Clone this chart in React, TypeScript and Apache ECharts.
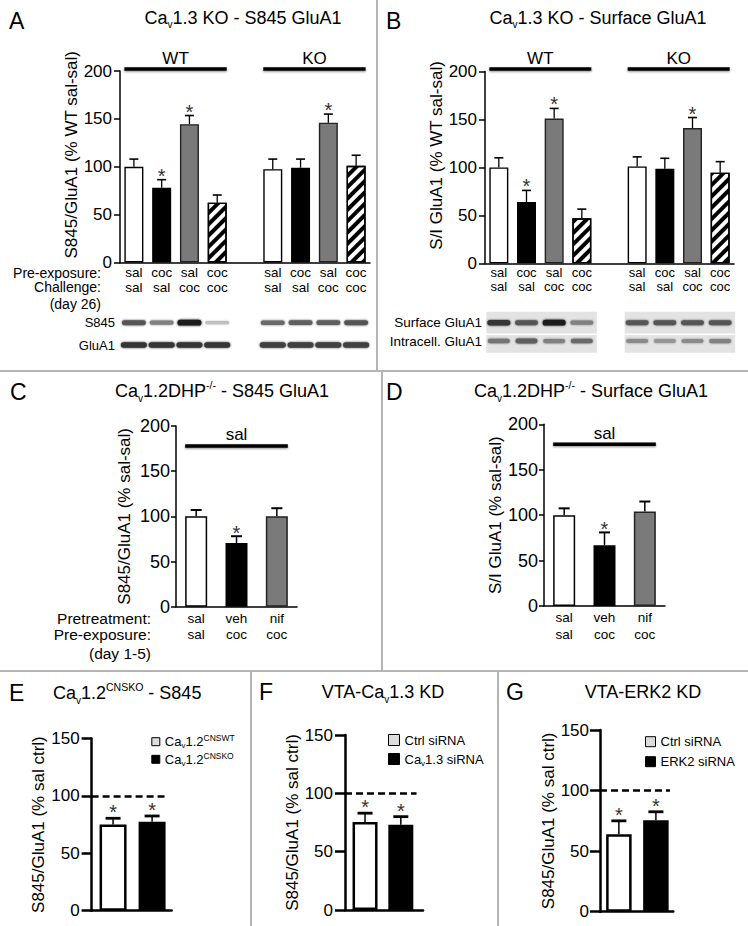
import React, { useEffect, useRef } from "react";
import * as echarts from "echarts";

const FONT = "'Liberation Sans', Arial, Helvetica, sans-serif";

// ---------- Panels A & B : Cav1.3 KO ----------
const abCategories = ["WT sal/sal", "WT coc/sal", "WT sal/coc", "WT coc/coc", "spacer", "KO sal/sal", "KO coc/sal", "KO sal/coc", "KO coc/coc"];
const abGenotype = ["WT", "WT", "WT", "WT", "", "KO", "KO", "KO", "KO"];
const abPreExposure = ["sal", "coc", "sal", "coc", "", "sal", "coc", "sal", "coc"];
const abChallenge = ["sal", "sal", "coc", "coc", "", "sal", "sal", "coc", "coc"];
const abFill = ["white", "black", "gray", "hatch", "", "white", "black", "gray", "hatch"];

const aMean = [100, 78, 144.5, 62.5, null, 97.5, 99, 146, 101];
const aErrTop = [108, 86.5, 153.5, 70.5, null, 108, 108, 155, 112];
const aSig = [false, true, true, false, false, false, false, true, false];

const bMean = [100, 64, 151, 47, null, 101, 98.5, 141, 94.5];
const bErrTop = [110, 76, 161.5, 56.5, null, 111, 109.5, 152, 106];
const bSig = [false, true, true, false, false, false, false, true, false];

// western blot band intensities (0..1)
const aBlotS845 = [0.7, 0.5, 0.95, 0.2, null, 0.6, 0.65, 0.65, 0.7];
const aBlotGluA1 = [0.85, 0.85, 0.85, 0.85, null, 0.8, 0.8, 0.8, 0.8];
const bBlotSurface = [0.85, 0.7, 0.95, 0.5, null, 0.7, 0.7, 0.7, 0.7];
const bBlotIntra = [0.55, 0.65, 0.5, 0.6, null, 0.45, 0.4, 0.45, 0.5];

// ---------- Panels C & D : Cav1.2DHP-/- ----------
const cdCategories = ["sal/sal", "veh/coc", "nif/coc"];
const cdPretreatment = ["sal", "veh", "nif"];
const cdPreExposure = ["sal", "coc", "coc"];
const cdFill = ["white", "black", "gray"];
const cdChallenge = "sal";
const cMean = [100, 70.5, 100];
const cErrTop = [107, 78, 109];
const cSig = [false, true, false];
const dMean = [100, 67, 104];
const dErrTop = [107.5, 81, 115];
const dSig = [false, true, false];

// ---------- Panels E, F, G ----------
const eSeries = ["Cav1.2CNSWT", "Cav1.2CNSKO"];
const eMean = [75, 77.5];
const eErrTop = [80.5, 82.5];
const fSeries = ["Ctrl siRNA", "Cav1.3 siRNA"];
const fMean = [75.5, 73];
const fErrTop = [83, 80];
const gSeries = ["Ctrl siRNA", "ERK2 siRNA"];
const gMean = [64, 75.5];
const gErrTop = [75, 82.5];
const efgSig = [true, true];
const efgX = [1, 2];
const refLevel = 100;

// ---------- layout ----------
const L: any = {
  A: { left: 120, top: 71, width: 250, height: 191.5 },
  B: { left: 485, top: 71.5, width: 249, height: 191.8 },
  C: { left: 176, top: 426, width: 121, height: 180.7 },
  D: { left: 544, top: 424.3, width: 121, height: 181.7 },
  E: { left: 91.6, top: 738.5, width: 80, height: 172.2, xmin: 0.45, xmax: 2.5, dashEnd: 2.33, barW: 27 },
  F: { left: 345, top: 735, width: 78, height: 175, xmin: 0.44, xmax: 2.62, dashEnd: 2.44, barW: 25 },
  G: { left: 600, top: 730, width: 73.3, height: 181.7, xmin: 0.49, xmax: 2.47, dashEnd: 2.38, barW: 25.5 },
};

const HATCH = {
  symbol: "rect",
  symbolSize: 1,
  dashArrayX: [1, 0],
  dashArrayY: [3.5, 3.5],
  rotation: -Math.PI / 4,
  color: "#000",
  backgroundColor: "#fff",
};

function fillStyle(kind: string, bw: number): any {
  switch (kind) {
    case "black":
      return { color: "#000", borderColor: "#000", borderWidth: bw };
    case "gray":
      return { color: "#7a7a7a", borderColor: "#222", borderWidth: bw };
    case "hatch":
      return { color: "#fff", borderColor: "#000", borderWidth: bw, decal: HATCH };
    default:
      return { color: "#fff", borderColor: "#000", borderWidth: bw };
  }
}

function spansFrom(labels: string[]) {
  const out: any[] = [];
  labels.forEach((lab, i) => {
    if (!lab) return;
    const last = out[out.length - 1];
    if (last && last.label === lab && last.to === i - 1) last.to = i;
    else out.push({ from: i, to: i, label: lab });
  });
  return out;
}

function errorSeries(axis: number, xs: number[], means: any[], tops: any[], sigs: boolean[], st: any) {
  const data: any[] = [];
  means.forEach((m, i) => {
    if (m != null) data.push([xs[i], m, tops[i], sigs[i] ? 1 : 0]);
  });
  return {
    type: "custom",
    xAxisIndex: axis,
    yAxisIndex: axis,
    silent: true,
    z: 5,
    encode: { x: 0, y: [1, 2] },
    data,
    renderItem: (params: any, api: any) => {
      const x = api.value(0);
      const m = api.value(1);
      const t = api.value(2);
      const s = api.value(3);
      const p0 = api.coord([x, m]);
      const p1 = api.coord([x, t]);
      const ch: any[] = [
        { type: "line", shape: { x1: p0[0], y1: p0[1], x2: p1[0], y2: p1[1] }, style: { stroke: "#000", lineWidth: st.stem } },
        { type: "line", shape: { x1: p1[0] - st.cap, y1: p1[1], x2: p1[0] + st.cap, y2: p1[1] }, style: { stroke: "#000", lineWidth: st.capW } },
      ];
      if (s) {
        ch.push({
          type: "text",
          x: p1[0],
          y: p1[1] - st.starGap,
          style: { text: "*", fontSize: st.starSize, fontFamily: FONT, fill: "#333", align: "center", verticalAlign: "middle" },
        });
      }
      return { type: "group", children: ch };
    },
  };
}

function groupSeries(axis: number, spans: any[], yVal: number, halfBar: number, st: any) {
  return {
    type: "custom",
    xAxisIndex: axis,
    yAxisIndex: axis,
    silent: true,
    z: 5,
    encode: { x: [0, 1], y: 2 },
    data: spans.map((s) => [s.from, s.to, yVal]),
    renderItem: (params: any, api: any) => {
      const sp = spans[params.dataIndex];
      const a = api.coord([sp.from, yVal]);
      const b = api.coord([sp.to, yVal]);
      const x0 = a[0] - halfBar;
      const x1 = b[0] + halfBar;
      return {
        type: "group",
        children: [
          {
            type: "rect",
            shape: { x: x0, y: a[1] - st.lw / 2, width: x1 - x0, height: st.lw },
            style: { fill: "#000", shadowBlur: 2, shadowColor: "rgba(0,0,0,0.45)", shadowOffsetY: 1 },
          },
          {
            type: "text",
            x: (a[0] + b[0]) / 2,
            y: a[1] - st.gap,
            style: { text: sp.label, fontSize: st.fs, fontFamily: FONT, fill: "#000", align: "center", verticalAlign: "middle" },
          },
        ],
      };
    },
  };
}

function yAxisOf(gridIndex: number, max: number, name: string, o: any) {
  return {
    type: "value",
    gridIndex,
    min: 0,
    max,
    interval: 50,
    name,
    nameLocation: "middle",
    nameGap: o.nameGap,
    nameRotate: 90,
    nameTextStyle: { fontSize: 17, color: "#000", fontFamily: FONT, padding: o.namePad || 0 },
    axisLine: { show: true, lineStyle: { color: "#000", width: o.lw } },
    axisTick: { show: true, length: o.tickLen, lineStyle: { color: "#000", width: o.lw } },
    axisLabel: { fontSize: o.fs, color: "#000", margin: o.margin, fontFamily: FONT },
    splitLine: { show: false },
  };
}

function catAxis(gridIndex: number, cats: string[], row1: string[], row2: string[], o: any) {
  return {
    type: "category",
    gridIndex,
    data: cats,
    axisLine: { show: true, lineStyle: { color: "#000", width: 1.5 } },
    axisTick: { show: false },
    axisLabel: {
      interval: 0,
      fontSize: o.fs,
      lineHeight: o.lh,
      margin: o.margin,
      color: "#000",
      fontFamily: FONT,
      formatter: (v: string) => {
        const i = cats.indexOf(v);
        return row1[i] ? `${row1[i]}\n${row2[i]}` : "";
      },
    },
    splitLine: { show: false },
  };
}

function valXAxis(gridIndex: number, g: any) {
  return {
    type: "value",
    gridIndex,
    min: g.xmin,
    max: g.xmax,
    axisLine: { show: true, onZero: false, lineStyle: { color: "#000", width: 2.5 } },
    axisTick: { show: false },
    axisLabel: { show: false },
    splitLine: { show: false },
  };
}

function toRich(name: string) {
  if (name.startsWith("Cav")) {
    const rest = name.slice(3);
    const m = rest.match(/^(1\.\d)(CNS\w+)$/);
    if (m) return `{n|Ca}{sub|v}{n|${m[1]}}{sup|${m[2]}}`;
    return `{n|Ca}{sub|v}{n|${rest}}`;
  }
  return `{n|${name}}`;
}

const legendRich = {
  n: { fontSize: 13, fontFamily: FONT, color: "#000", lineHeight: 16 },
  sub: { fontSize: 8, fontFamily: FONT, color: "#000", lineHeight: 8, verticalAlign: "bottom" },
  sup: { fontSize: 8.5, fontFamily: FONT, color: "#000", lineHeight: 9, verticalAlign: "top" },
};

function legendOf(names: string[], left: number, top: number, size: number, gap: number) {
  return {
    orient: "vertical",
    left,
    top,
    padding: 0,
    itemWidth: size,
    itemHeight: size,
    itemGap: gap,
    selectedMode: false,
    icon: "rect",
    data: [
      { name: names[0], itemStyle: { color: "#dcdcdc", borderColor: "#000", borderWidth: 1 } },
      { name: names[1], itemStyle: { color: "#000", borderColor: "#000", borderWidth: 1 } },
    ],
    formatter: (name: string) => toRich(name),
    textStyle: { fontSize: 13, fontFamily: FONT, color: "#000", lineHeight: 16, rich: legendRich },
  };
}

function efgBars(axis: number, names: string[], means: number[], g: any) {
  const common = { type: "bar", xAxisIndex: axis, yAxisIndex: axis, barWidth: g.barW, barGap: "-100%" };
  return [
    {
      ...common,
      name: names[0],
      data: [[efgX[0], means[0]]],
      itemStyle: fillStyle("white", 2.5),
      markLine: {
        silent: true,
        symbol: ["none", "none"],
        label: { show: false },
        lineStyle: { color: "#000", width: 2.5, type: [7, 4] },
        data: [[{ coord: [g.xmin, refLevel] }, { coord: [g.dashEnd, refLevel] }]],
      },
    },
    { ...common, name: names[1], data: [[efgX[1], means[1]]], itemStyle: fillStyle("black", 2.5) },
  ];
}

const titleRich = {
  n: { fontSize: 18, fontFamily: FONT, fill: "#000", lineHeight: 24 },
  sub: { fontSize: 10, fontFamily: FONT, fill: "#000", lineHeight: 10, verticalAlign: "bottom" },
  sup: { fontSize: 10.5, fontFamily: FONT, fill: "#000", lineHeight: 12, verticalAlign: "top" },
};

function richText(x: number, y: number, text: string, align = "center") {
  return {
    type: "text",
    x,
    y,
    silent: true,
    style: { text, rich: titleRich, fontSize: 18, fontFamily: FONT, fill: "#000", align, textAlign: align, verticalAlign: "middle", textVerticalAlign: "middle" },
  };
}

function plainText(x: number, y: number, text: string, size: number, align = "right") {
  return {
    type: "text",
    x,
    y,
    silent: true,
    style: { text, fontSize: size, fontFamily: FONT, fill: "#000", align, textAlign: align, verticalAlign: "middle", textVerticalAlign: "middle" },
  };
}

function laneX(g: any, idx: number, n: number) {
  return g.left + ((idx + 0.5) * g.width) / n;
}

function band(cx: number, cy: number, w: number, k: number) {
  const h = 2.5 + 3.5 * k;
  const c = Math.round(235 - 215 * k);
  const col = `rgb(${c},${c},${c})`;
  return {
    type: "rect",
    silent: true,
    shape: { x: cx - w / 2, y: cy - h / 2, width: w, height: h, r: h / 2 },
    style: { fill: col, shadowBlur: 2, shadowColor: col },
  };
}

function buildGraphics() {
  const els: any[] = [];
  const div = (x1: number, y1: number, x2: number, y2: number) =>
    els.push({ type: "line", silent: true, shape: { x1, y1, x2, y2 }, style: { stroke: "#b4b4b4", lineWidth: 2 } });
  div(377, 0, 377, 371);
  div(0, 371, 748, 371);
  div(382, 371, 382, 671);
  div(0, 671, 748, 671);
  div(251, 671, 251, 926);
  div(498, 671, 498, 926);

  // panel letters
  const letter = (x: number, y: number, t: string) =>
    els.push({ type: "text", x, y, silent: true, style: { text: t, fontSize: 23, fontFamily: FONT, fill: "#000", align: "left", verticalAlign: "middle" } });
  letter(9, 20.5, "A");
  letter(386, 20.5, "B");
  letter(10, 391.5, "C");
  letter(386, 391.5, "D");
  letter(9, 693, "E");
  letter(259, 692, "F");
  letter(506, 692, "G");

  // titles
  els.push(richText(243, 17.5, "{n|Ca}{sub|v}{n|1.3 KO - S845 GluA1}"));
  els.push(richText(598, 17.5, "{n|Ca}{sub|v}{n|1.3 KO - Surface GluA1}"));
  els.push(richText(222, 391, "{n|Ca}{sub|v}{n|1.2DHP}{sup|-/-}{n| - S845 GluA1}"));
  els.push(richText(591, 391, "{n|Ca}{sub|v}{n|1.2DHP}{sup|-/-}{n| - Surface GluA1}"));
  els.push(richText(53, 693, "{n|Ca}{sub|v}{n|1.2}{sup|CNSKO}{n| - S845}", "left"));
  els.push(richText(383, 692, "{n|VTA-Ca}{sub|v}{n|1.3 KD}"));
  els.push(richText(643, 692, "{n|VTA-ERK2 KD}"));

  // row headers
  els.push(plainText(101, 272.5, "Pre-exposure:", 14));
  els.push(plainText(101, 287, "Challenge:", 14));
  els.push(plainText(101, 304, "(day 26)", 14));
  els.push(plainText(151, 618, "Pretreatment:", 15.5));
  els.push(plainText(151, 634, "Pre-exposure:", 15.5));
  els.push(plainText(151, 653, "(day 1-5)", 15.5));

  // Panel A blots
  els.push(plainText(115, 322.7, "S845", 13));
  els.push(plainText(115, 345, "GluA1", 13));
  aBlotS845.forEach((k, i) => {
    if (k != null) els.push(band(laneX(L.A, i, 9), 322.7, 24, k));
  });
  aBlotGluA1.forEach((k, i) => {
    if (k != null) els.push(band(laneX(L.A, i, 9), 345, 26, k));
  });

  // Panel B blots
  els.push(plainText(482, 322.7, "Surface GluA1", 13.5));
  els.push(plainText(482, 341, "Intracell. GluA1", 13.5));
  const boxes = [
    [0, 3],
    [5, 8],
  ];
  boxes.forEach(([a, b]) => {
    const x0 = laneX(L.B, a, 9) - 12.5;
    const x1 = laneX(L.B, b, 9) + 15;
    els.push({ type: "rect", silent: true, shape: { x: x0, y: 311.7, width: x1 - x0, height: 21.8 }, style: { fill: "#e3e3e3" } });
    els.push({ type: "rect", silent: true, shape: { x: x0, y: 335, width: x1 - x0, height: 17.7 }, style: { fill: "#e3e3e3" } });
  });
  bBlotSurface.forEach((k, i) => {
    if (k != null) els.push(band(laneX(L.B, i, 9), 322.7, 23, k));
  });
  bBlotIntra.forEach((k, i) => {
    if (k != null) els.push(band(laneX(L.B, i, 9), 341, 22, k));
  });
  return els;
}

function buildOption(): any {
  const abSpans = spansFrom(abGenotype);
  const cdSpans = [{ from: 0, to: cdCategories.length - 1, label: cdChallenge }];
  const abIdx = abCategories.map((_, i) => i);
  const cdIdx = cdCategories.map((_, i) => i);
  const abErrSt = { stem: 1.3, capW: 1.6, cap: 4.5, starSize: 20, starGap: 4 };
  const cdErrSt = { stem: 1.5, capW: 2, cap: 5.5, starSize: 20, starGap: 3.5 };
  const efgErrSt = { stem: 1.5, capW: 2.8, cap: 7.5, starSize: 20, starGap: 5.8 };

  return {
    animation: false,
    backgroundColor: "#fff",
    textStyle: { fontFamily: FONT },
    grid: ["A", "B", "C", "D", "E", "F", "G"].map((k) => ({
      left: L[k].left,
      top: L[k].top,
      width: L[k].width,
      height: L[k].height,
    })),
    xAxis: [
      catAxis(0, abCategories, abPreExposure, abChallenge, { fs: 13.5, lh: 15, margin: 2 }),
      catAxis(1, abCategories, abPreExposure, abChallenge, { fs: 13, lh: 14, margin: 2.4 }),
      catAxis(2, cdCategories, cdPretreatment, cdPreExposure, { fs: 13.5, lh: 16, margin: 3.3 }),
      catAxis(3, cdCategories, cdPretreatment, cdPreExposure, { fs: 13.5, lh: 17, margin: 2.5 }),
      valXAxis(4, L.E),
      valXAxis(5, L.F),
      valXAxis(6, L.G),
    ],
    yAxis: [
      yAxisOf(0, 200, "S845/GluA1 (% WT sal-sal)", { nameGap: 35, namePad: [0, 0, 0, 24], lw: 1.5, tickLen: 6, fs: 17, margin: 8 }),
      yAxisOf(1, 200, "S/I GluA1 (% WT sal-sal)", { nameGap: 39, namePad: [0, 0, 0, 24], lw: 1.5, tickLen: 6, fs: 17, margin: 8 }),
      yAxisOf(2, 200, "S845/GluA1 (% sal-sal)", { nameGap: 43, lw: 1.5, tickLen: 5, fs: 18, margin: 6 }),
      yAxisOf(3, 200, "S/I GluA1 (% sal-sal)", { nameGap: 40, lw: 1.5, tickLen: 5, fs: 18, margin: 6 }),
      yAxisOf(4, 150, "S845/GluA1 (% sal ctrl)", { nameGap: 42, lw: 2.5, tickLen: 10, fs: 17, margin: 12 }),
      yAxisOf(5, 150, "S845/GluA1 (% sal ctrl)", { nameGap: 35, lw: 2.5, tickLen: 10, fs: 17, margin: 12 }),
      yAxisOf(6, 150, "S845/GluA1 (% sal ctrl)", { nameGap: 37, lw: 2.5, tickLen: 10, fs: 17, margin: 11 }),
    ],
    legend: [
      legendOf(eSeries, 151.3, 733.7, 8, 1.6),
      legendOf(fSeries, 388, 732, 11, 3),
      legendOf(gSeries, 645, 733.7, 10, 4),
    ],
    series: [
      // A
      {
        type: "bar",
        xAxisIndex: 0,
        yAxisIndex: 0,
        barWidth: 19,
        data: aMean.map((v, i) => (v == null ? "-" : { value: v, itemStyle: fillStyle(abFill[i], 1.4) })),
      },
      errorSeries(0, abIdx, aMean, aErrTop, aSig, abErrSt),
      groupSeries(0, abSpans, 202, 9.5, { lw: 3.5, fs: 17, gap: 10.5 }),
      // B
      {
        type: "bar",
        xAxisIndex: 1,
        yAxisIndex: 1,
        barWidth: 19,
        data: bMean.map((v, i) => (v == null ? "-" : { value: v, itemStyle: fillStyle(abFill[i], 1.4) })),
      },
      errorSeries(1, abIdx, bMean, bErrTop, bSig, abErrSt),
      groupSeries(1, abSpans, 202.5, 9.5, { lw: 3.5, fs: 17, gap: 10.5 }),
      // C
      {
        type: "bar",
        xAxisIndex: 2,
        yAxisIndex: 2,
        barWidth: 22,
        data: cMean.map((v, i) => ({ value: v, itemStyle: fillStyle(cdFill[i], 1.5) })),
      },
      errorSeries(2, cdIdx, cMean, cErrTop, cSig, cdErrSt),
      groupSeries(2, cdSpans, 178, 11, { lw: 3.5, fs: 17, gap: 11 }),
      // D
      {
        type: "bar",
        xAxisIndex: 3,
        yAxisIndex: 3,
        barWidth: 22,
        data: dMean.map((v, i) => ({ value: v, itemStyle: fillStyle(cdFill[i], 1.5) })),
      },
      errorSeries(3, cdIdx, dMean, dErrTop, dSig, cdErrSt),
      groupSeries(3, cdSpans, 178, 11, { lw: 3.5, fs: 17, gap: 11 }),
      // E
      ...efgBars(4, eSeries, eMean, L.E),
      errorSeries(4, efgX, eMean, eErrTop, efgSig, efgErrSt),
      // F
      ...efgBars(5, fSeries, fMean, L.F),
      errorSeries(5, efgX, fMean, fErrTop, efgSig, efgErrSt),
      // G
      ...efgBars(6, gSeries, gMean, L.G),
      errorSeries(6, efgX, gMean, gErrTop, efgSig, efgErrSt),
    ],
    graphic: { elements: buildGraphics() },
  };
}

export default function App() {
  const ref = useRef<HTMLDivElement>(null);
  useEffect(() => {
    if (!ref.current) return;
    const chart = echarts.init(ref.current, null, { renderer: "svg" });
    chart.setOption(buildOption());
    return () => chart.dispose();
  }, []);
  return (
    <div
      ref={ref}
      style={{ position: "absolute", left: 0, top: 0, width: 748, height: 926, background: "#fff" }}
    />
  );
}
